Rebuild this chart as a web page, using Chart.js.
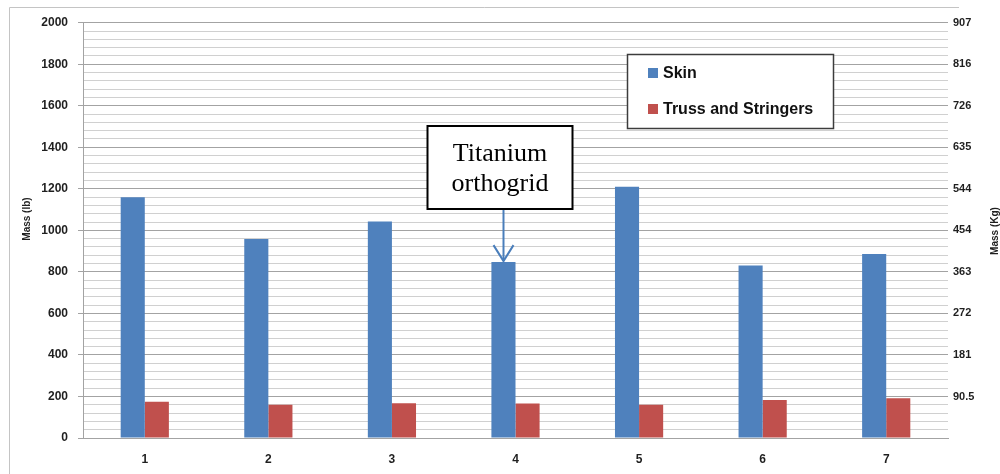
<!DOCTYPE html>
<html>
<head>
<meta charset="utf-8">
<title>Mass (lb)</title>
<script src="https://cdn.jsdelivr.net/npm/chart.js@4/dist/chart.umd.min.js"></script>
<style>
  html, body { margin: 0; padding: 0; background: #ffffff; }
  canvas { display: block; }
</style>
</head>
<body>
<canvas id="chart" width="1000" height="474"></canvas>
<script>
// Configurations 1-7
const categories = ['1', '2', '3', '4', '5', '6', '7'];
// Skin mass per configuration (lb)
const skinLb = [1160, 958, 1043, 847, 1210, 831, 886];
// Truss and stringer mass per configuration (lb)
const trussLb = [174, 160, 167, 166, 160, 183, 191];
// Left axis: pound ticks (every 200 labelled, minor lines every 40)
const lbMax = 2000;
const lbMajor = 200;
const lbMinor = 40;
// Right axis: kilogram equivalents printed at each major pound line
const kgTickLabels = ['', '90.5', '181', '272', '363', '454', '544', '635', '726', '816', '907'];
// Axis titles
const leftTitle = 'Mass (lb)';
const rightTitle = 'Mass (Kg)';
// Callout text pointing at configuration 4
const calloutLines = ['Titanium', 'orthogrid'];
const calloutIndex = 3;

const BLUE = '#4f81bd';
const RED = '#c0504d';
const TICK_TEXT = '#1f1f1f';
const MAJOR_GRID = '#a3a3a3';
const MINOR_GRID = '#d0d0d0';
const SANS = '"Liberation Sans", Arial, sans-serif';

const isMajor = v => Math.abs(v % lbMajor) < 1e-6;

// Thin outer frame around the chart object
const framePlugin = {
  id: 'frame',
  beforeDraw(chart) {
    const ctx = chart.ctx;
    ctx.save();
    ctx.fillStyle = '#ffffff';
    ctx.fillRect(0, 0, chart.width, chart.height);
    ctx.strokeStyle = '#c4c4c4';
    ctx.lineWidth = 1;
    ctx.beginPath();
    ctx.moveTo(9.5, chart.height);
    ctx.lineTo(9.5, 7.5);
    ctx.lineTo(959, 7.5);
    ctx.stroke();
    ctx.restore();
  }
};

// Both axis titles read bottom-to-top
const axisTitlePlugin = {
  id: 'axisTitles',
  afterDraw(chart) {
    const ctx = chart.ctx;
    ctx.save();
    ctx.fillStyle = TICK_TEXT;
    ctx.font = 'bold 10px ' + SANS;
    ctx.textAlign = 'center';
    ctx.textBaseline = 'middle';
    [[27, 219, leftTitle], [995, 231, rightTitle]].forEach(([x, y, t]) => {
      ctx.save();
      ctx.translate(x, y);
      ctx.rotate(-Math.PI / 2);
      ctx.fillText(t, 0, 0);
      ctx.restore();
    });
    ctx.restore();
  }
};

// Boxed legend inside the plot and the callout with its arrow
const overlayPlugin = {
  id: 'overlay',
  afterDraw(chart) {
    const ctx = chart.ctx;
    ctx.save();

    // legend box
    const lx = 627.5, ly = 54.5, lw = 206, lh = 74;
    ctx.fillStyle = '#ffffff';
    ctx.fillRect(lx, ly, lw, lh);
    ctx.strokeStyle = '#3c3c3c';
    ctx.lineWidth = 1.5;
    ctx.strokeRect(lx, ly, lw, lh);
    ctx.font = 'bold 16px ' + SANS;
    ctx.textBaseline = 'alphabetic';
    ctx.textAlign = 'left';
    const rowBase = [77.5, 113.5];
    chart.data.datasets.forEach((ds, i) => {
      const by = rowBase[i];
      ctx.fillStyle = ds.backgroundColor;
      ctx.fillRect(648, by - 9.5, 10, 10);
      ctx.fillStyle = '#111111';
      ctx.fillText(ds.label, 663, by);
    });

    // callout box above configuration 4's skin bar
    const bar = chart.getDatasetMeta(0).data[calloutIndex];
    const ax = Math.round(bar.x) + 0.5;
    const bw = 145, bh = 83, bt = 126;
    const bl = ax - 76;
    ctx.fillStyle = '#ffffff';
    ctx.fillRect(bl, bt, bw, bh);
    ctx.strokeStyle = '#000000';
    ctx.lineWidth = 2;
    ctx.strokeRect(bl, bt, bw, bh);
    ctx.fillStyle = '#000000';
    ctx.font = '26px "Liberation Serif", "Times New Roman", serif';
    ctx.textAlign = 'center';
    ctx.fillText(calloutLines[0], bl + bw / 2, 161);
    ctx.fillText(calloutLines[1], bl + bw / 2, 191);

    // arrow from the box down to the bar top
    ctx.strokeStyle = '#4a7ebb';
    ctx.lineWidth = 2;
    ctx.beginPath();
    ctx.moveTo(ax, bt + bh + 1);
    ctx.lineTo(ax, bar.y - 1);
    ctx.stroke();
    ctx.beginPath();
    ctx.moveTo(ax - 10, bar.y - 17);
    ctx.lineTo(ax, bar.y - 1);
    ctx.lineTo(ax + 10, bar.y - 17);
    ctx.stroke();

    ctx.restore();
  }
};

new Chart(document.getElementById('chart'), {
  type: 'bar',
  data: {
    labels: categories,
    datasets: [
      { label: 'Skin', data: skinLb, backgroundColor: BLUE, yAxisID: 'y' },
      { label: 'Truss and Stringers', data: trussLb, backgroundColor: RED, yAxisID: 'y' }
    ]
  },
  options: {
    responsive: false,
    animation: false,
    layout: { padding: { top: 22.7, left: 0, right: 0, bottom: 0 } },
    datasets: {
      bar: { categoryPercentage: 0.39, barPercentage: 1.0, borderWidth: 0 }
    },
    plugins: {
      legend: { display: false },
      tooltip: { enabled: false }
    },
    scales: {
      x: {
        grid: { display: false, drawTicks: false },
        border: { display: true, color: MAJOR_GRID, width: 1 },
        ticks: {
          color: TICK_TEXT,
          font: { family: SANS, size: 12, weight: 'bold' },
          padding: 14
        },
        afterFit(scale) { scale.height = 36; }
      },
      y: {
        position: 'left',
        min: 0,
        max: lbMax,
        grid: {
          color: ctx => isMajor(ctx.tick.value) ? MAJOR_GRID : MINOR_GRID,
          tickColor: ctx => isMajor(ctx.tick.value) ? MAJOR_GRID : 'rgba(0,0,0,0)',
          tickLength: 5,
          lineWidth: 1
        },
        border: { display: true, color: MAJOR_GRID, width: 1 },
        ticks: {
          stepSize: lbMinor,
          maxTicksLimit: 100,
          autoSkip: false,
          color: TICK_TEXT,
          font: { family: SANS, size: 12, weight: 'bold' },
          padding: 10,
          callback: v => isMajor(v) ? String(v) : ''
        },
        afterFit(scale) { scale.width = 83; }
      },
      y2: {
        position: 'right',
        min: 0,
        max: lbMax,
        grid: { display: false, drawTicks: false },
        border: { display: false },
        ticks: {
          stepSize: lbMinor,
          maxTicksLimit: 100,
          autoSkip: false,
          color: TICK_TEXT,
          font: { family: SANS, size: 11, weight: 'bold' },
          padding: 5,
          callback: v => isMajor(v) ? kgTickLabels[Math.round(v / lbMajor)] : ''
        },
        afterFit(scale) { scale.width = 52; }
      }
    }
  },
  plugins: [framePlugin, axisTitlePlugin, overlayPlugin]
});
</script>
</body>
</html>
